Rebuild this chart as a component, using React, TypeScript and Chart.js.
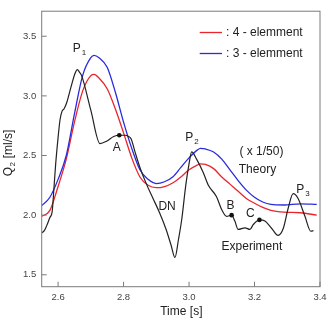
import React, { useEffect, useRef } from "react";
import { Chart, registerables } from "chart.js";

Chart.register(...registerables);

// ---- data ----
const xTicks = [2.6, 2.8, 3.0, 3.2, 3.4];
const yTicks = [1.5, 2.0, 2.5, 3.0, 3.5];

const theoryX = [2.55, 2.575, 2.6, 2.625, 2.65, 2.675, 2.7, 2.71, 2.725, 2.75, 2.775, 2.8, 2.825, 2.85, 2.875, 2.9, 2.925, 2.95, 2.975, 3.0, 3.025, 3.035, 3.05, 3.075, 3.1, 3.125, 3.15, 3.175, 3.2, 3.225, 3.25, 3.29, 3.34, 3.39];
const element3 = [2.08, 2.15, 2.3, 2.5, 2.85, 3.17, 3.32, 3.34, 3.32, 3.24, 3.03, 2.78, 2.56, 2.38, 2.3, 2.265, 2.28, 2.32, 2.4, 2.48, 2.545, 2.56, 2.555, 2.53, 2.47, 2.38, 2.29, 2.21, 2.15, 2.11, 2.09, 2.085, 2.095, 2.09];
const element4 = [1.99, 2.04, 2.24, 2.47, 2.78, 3.04, 3.17, 3.18, 3.15, 3.06, 2.89, 2.69, 2.48, 2.32, 2.25, 2.23, 2.24, 2.27, 2.32, 2.38, 2.42, 2.43, 2.425, 2.39, 2.32, 2.26, 2.2, 2.14, 2.1, 2.065, 2.04, 2.025, 2.02, 2.0];

const expX = [2.55, 2.558, 2.565, 2.575, 2.582, 2.588, 2.593, 2.6, 2.606, 2.612, 2.618, 2.626, 2.64, 2.652, 2.659, 2.665, 2.672, 2.7, 2.728, 2.748, 2.77, 2.787, 2.805, 2.815, 2.823, 2.835, 2.85, 2.87, 2.89, 2.91, 2.93, 2.945, 2.957, 2.968, 2.978, 2.99, 3.0, 3.008, 3.023, 3.043, 3.059, 3.084, 3.1, 3.115, 3.13, 3.14, 3.15, 3.171, 3.186, 3.196, 3.215, 3.232, 3.252, 3.272, 3.288, 3.303, 3.318, 3.333, 3.354, 3.372, 3.38];
const expY = [1.85, 1.87, 1.91, 1.98, 2.03, 2.25, 2.44, 2.65, 2.8, 2.87, 2.89, 2.94, 3.08, 3.19, 3.22, 3.2, 3.17, 2.88, 2.6, 2.62, 2.66, 2.67, 2.67, 2.66, 2.64, 2.53, 2.4, 2.26, 2.14, 2.02, 1.88, 1.75, 1.645, 1.8, 1.97, 2.25, 2.43, 2.53, 2.47, 2.36, 2.25, 2.155, 2.045, 1.99, 2.0, 1.95, 1.88, 1.894, 1.88, 1.92, 1.96, 1.95, 1.89, 1.83, 1.89, 2.06, 2.18, 2.14, 1.99, 1.865, 1.87];

const markX = [2.787, 3.13, 3.215];
const markY = [2.67, 2.0, 1.96];

const legendLabels = [": 4 - elemment", ": 3 - elemment"];
const xTitle = "Time [s]";

// annotation texts: [main, subscript, x, y]
const noteText = ["P", "A", "P", "DN", "( x 1/50)", "Theory", "B", "C", "P", "Experiment"];
const noteSub = ["1", "", "2", "", "", "", "", "", "3", ""];
const noteX = [2.657, 2.779, 3.0007, 2.933, 3.221, 3.209, 3.127, 3.187, 3.34, 3.192];
const noteY = [3.395, 2.569, 2.651, 2.073, 2.533, 2.378, 2.081, 2.011, 2.211, 1.734];

const RED = "#e8262c";
const BLUE = "#2b2bdc";
const FONT = "Arial, 'Liberation Sans', sans-serif";

const toPts = (xs: number[], ys: number[]) => xs.map((x, i) => ({ x, y: ys[i] }));

const decor = {
  id: "decor",
  afterDraw(chart: any) {
    const { ctx, chartArea: a, scales } = chart;
    const xs = scales.x;
    const ys = scales.y;
    ctx.save();
    // frame
    ctx.strokeStyle = "#7a7a7a";
    ctx.lineWidth = 1;
    ctx.strokeRect(a.left, a.top, a.right - a.left, a.bottom - a.top);
    // inward ticks
    ctx.beginPath();
    xTicks.forEach((v) => {
      const px = xs.getPixelForValue(v);
      ctx.moveTo(px, a.bottom);
      ctx.lineTo(px, a.bottom - 5);
    });
    yTicks.forEach((v) => {
      const py = ys.getPixelForValue(v);
      ctx.moveTo(a.left, py);
      ctx.lineTo(a.left + 5, py);
    });
    ctx.stroke();

    // legend
    const lx0 = a.right - 120.3;
    const lx1 = a.right - 98;
    const ly = [a.top + 21.3, a.top + 42.3];
    const lc = [RED, BLUE];
    ctx.font = `12px ${FONT}`;
    ctx.textBaseline = "middle";
    ctx.textAlign = "left";
    legendLabels.forEach((t, i) => {
      ctx.strokeStyle = lc[i];
      ctx.lineWidth = 1.3;
      ctx.beginPath();
      ctx.moveTo(lx0, ly[i]);
      ctx.lineTo(lx1, ly[i]);
      ctx.stroke();
      ctx.fillStyle = "#222";
      ctx.fillText(t, lx1 + 4, ly[i]);
    });

    // annotations
    noteText.forEach((t, i) => {
      const px = xs.getPixelForValue(noteX[i]);
      const py = ys.getPixelForValue(noteY[i]);
      ctx.font = `12px ${FONT}`;
      ctx.fillStyle = "#222";
      ctx.textBaseline = "middle";
      ctx.textAlign = "center";
      ctx.fillText(t, px, py);
      if (noteSub[i]) {
        const w = ctx.measureText(t).width;
        ctx.font = `8px ${FONT}`;
        ctx.textAlign = "left";
        ctx.fillText(noteSub[i], px + w / 2 + 1, py + 4);
      }
    });

    // x title
    ctx.font = `12px ${FONT}`;
    ctx.textAlign = "center";
    ctx.textBaseline = "middle";
    ctx.fillStyle = "#222";
    ctx.fillText(xTitle, (a.left + a.right) / 2 + 0.5, 312);

    // y title (rotated)
    ctx.translate(9, (a.top + a.bottom) / 2 + 4);
    ctx.rotate(-Math.PI / 2);
    ctx.font = `12px ${FONT}`;
    const wQ = ctx.measureText("Q").width;
    ctx.font = `8px ${FONT}`;
    const w2 = ctx.measureText("2").width;
    ctx.font = `12px ${FONT}`;
    const wR = ctx.measureText(" [ml/s]").width;
    const total = wQ + w2 + 1 + wR;
    let cx = -total / 2;
    ctx.textAlign = "left";
    ctx.fillText("Q", cx, 0);
    cx += wQ;
    ctx.font = `8px ${FONT}`;
    ctx.fillText("2", cx + 0.5, 4);
    cx += w2 + 1;
    ctx.font = `12px ${FONT}`;
    ctx.fillText(" [ml/s]", cx, 0);
    ctx.restore();
  },
};

export default function App() {
  const ref = useRef<HTMLCanvasElement | null>(null);
  useEffect(() => {
    if (!ref.current) return;
    const chart = new Chart(ref.current, {
      type: "line",
      data: {
        datasets: [
          {
            data: toPts(markX, markY),
            showLine: false,
            pointRadius: 2.3,
            pointBackgroundColor: "#111",
            pointBorderWidth: 0,
            borderColor: "#111",
          },
          {
            data: toPts(expX, expY),
            borderColor: "#222",
            borderWidth: 1.2,
            pointRadius: 0,
            cubicInterpolationMode: "monotone",
          },
          {
            data: toPts(theoryX, element3),
            borderColor: BLUE,
            borderWidth: 1.3,
            pointRadius: 0,
            cubicInterpolationMode: "monotone",
          },
          {
            data: toPts(theoryX, element4),
            borderColor: RED,
            borderWidth: 1.3,
            pointRadius: 0,
            cubicInterpolationMode: "monotone",
          },
        ],
      },
      options: {
        animation: false,
        responsive: false,
        devicePixelRatio: 1,
        layout: { padding: { left: 0, top: 7, right: 14, bottom: 0 } },
        plugins: { legend: { display: false }, tooltip: { enabled: false } },
        scales: {
          x: {
            type: "linear",
            min: 2.55,
            max: 3.4,
            afterFit: (s: any) => {
              s.height = 33.3;
            },
            afterBuildTicks: (s: any) => {
              s.ticks = xTicks.map((v) => ({ value: v }));
            },
            grid: { display: false, drawTicks: false },
            border: { display: false },
            ticks: {
              padding: 5,
              color: "#444",
              font: { size: 9.5, family: FONT },
              callback: (v: any) => Number(v).toFixed(1),
            },
          },
          y: {
            type: "linear",
            min: 1.4,
            max: 3.71,
            afterFit: (s: any) => {
              s.width = 41.7;
            },
            afterBuildTicks: (s: any) => {
              s.ticks = yTicks.map((v) => ({ value: v }));
            },
            grid: { display: false, drawTicks: false },
            border: { display: false },
            ticks: {
              padding: 5.5,
              color: "#444",
              font: { size: 9.5, family: FONT },
              callback: (v: any) => Number(v).toFixed(1),
            },
          },
        },
      },
      plugins: [decor],
    } as any);
    return () => chart.destroy();
  }, []);
  return (
    <div style={{ position: "fixed", left: 0, top: 0, width: 334, height: 320, background: "#fff" }}>
      <canvas ref={ref} width={334} height={320} />
    </div>
  );
}
